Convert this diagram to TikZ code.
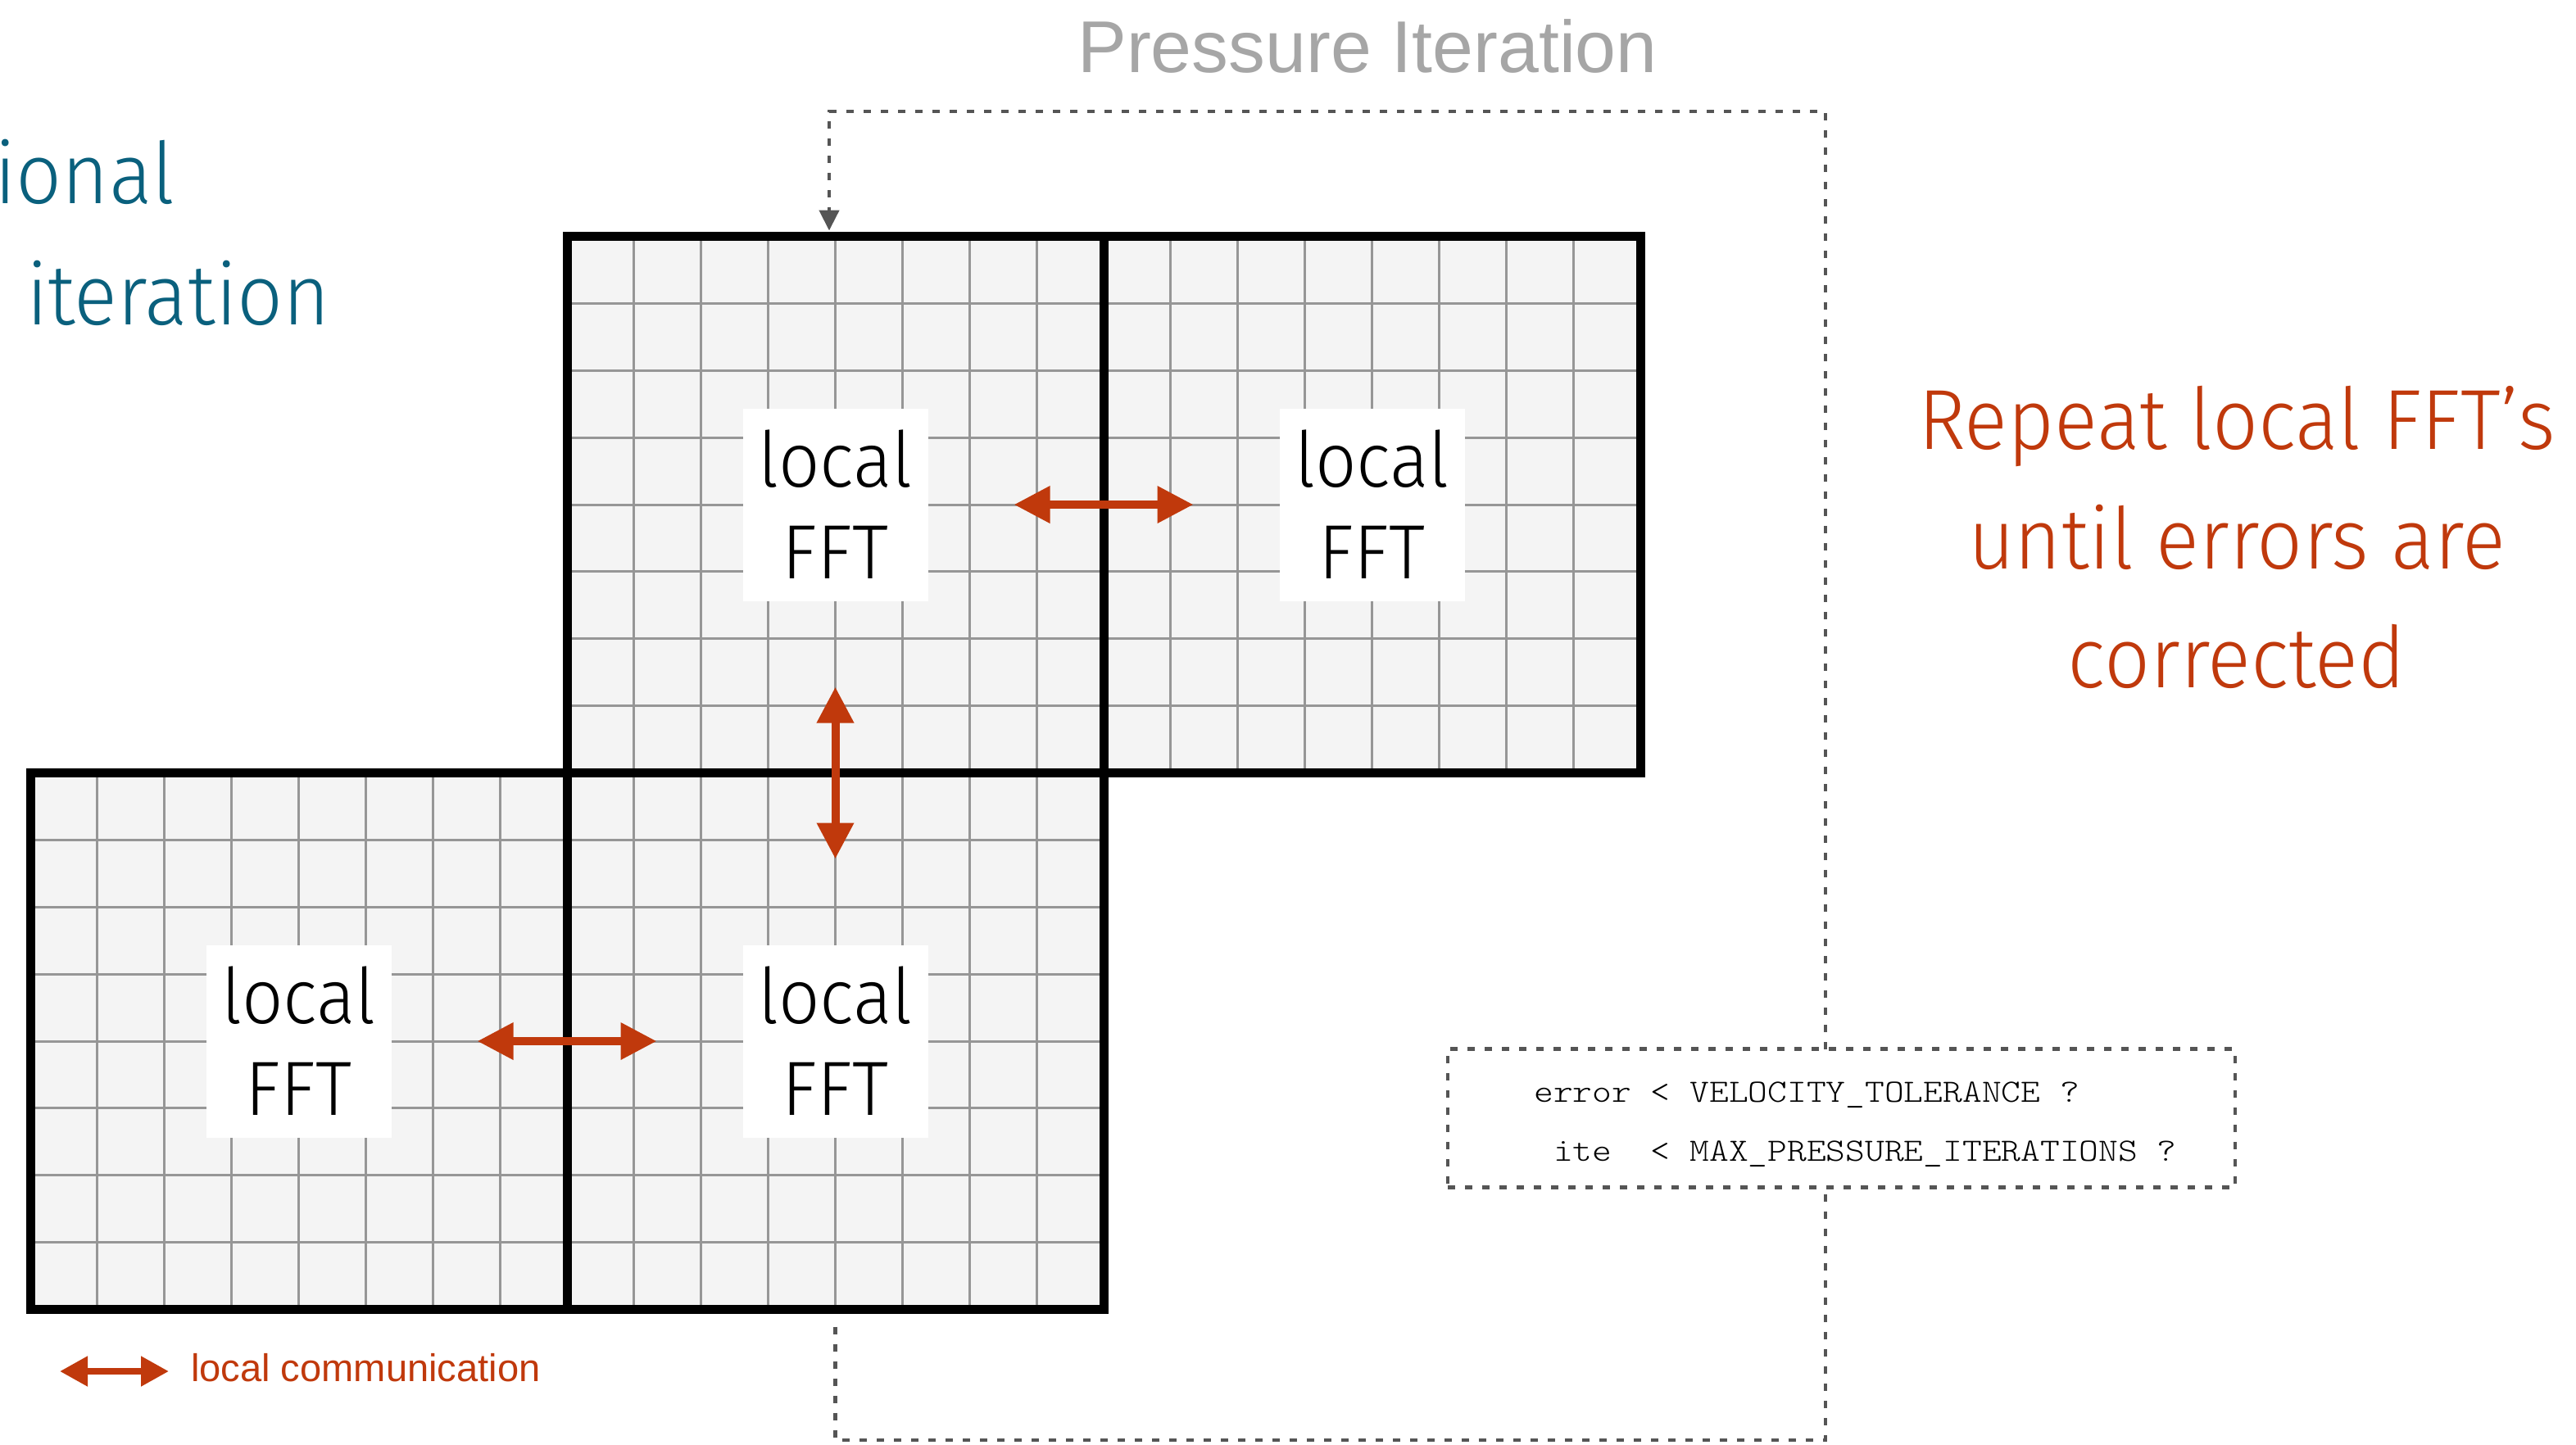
\documentclass[tikz,border=0pt]{standalone}
\usepackage{fontspec}
\usetikzlibrary{calc,arrows.meta}
\setmainfont{Fira Sans}[UprightFont={* Light}, FakeStretch=0.945]
\newfontfamily\helvfont{Liberation Sans}
\newfontfamily\codefont{lmmonolt10-regular.otf}[FakeStretch=1.14]
\definecolor{commred}{RGB}{192,57,12}
\definecolor{tealblue}{RGB}{10,96,125}
\definecolor{titlegray}{RGB}{166,166,166}
\definecolor{loopgray}{RGB}{85,85,85}
\definecolor{cellfill}{RGB}{244,244,244}
\definecolor{cellline}{RGB}{150,150,150}

\begin{document}
\begin{tikzpicture}[node distance=6.55cm, every node/.style={inner sep=0pt, outer sep=0pt},
    blk/.style={rectangle, fill=cellfill, minimum size=6.55cm},
    fftbox/.style={rectangle, fill=white, minimum width=2.26cm, minimum height=2.35cm, align=center, font=\fontsize{26.7}{31.9}\selectfont},
    comm/.style={commred, line width=0.1cm, {Triangle[length=0.44cm,width=0.43cm]}-{Triangle[length=0.44cm,width=0.43cm]}, shorten <=1.05cm, shorten >=1.05cm},
    loopline/.style={loopgray, line width=0.045cm, dash pattern=on 0.09cm off 0.12cm},
    condbox/.style={draw=loopgray, line width=0.045cm, dash pattern=on 0.09cm off 0.12cm, minimum width=9.61cm, minimum height=1.69cm},
    condtext/.style={align=left, font=\codefont\fontsize{11.3}{20.5}\selectfont},
    bigtext/.style={font=\fontsize{29.6}{41.5}\selectfont}]

    \useasboundingbox (0,0) rectangle (31.44,-17.63);

    % Blocks
    \node[blk] (blkA) at (10.195,-6.16) {};
    \node[blk, right of=blkA] (blkB) {};
    \node[blk, below of=blkA] (blkD) {};
    \node[blk, left of=blkD] (blkC) {};

    % Cells inside each block
    \foreach \b in {blkA,blkB,blkC,blkD} {
        \foreach \i in {1,...,7} {
            \draw[cellline, line width=0.03cm] ($(\b.north west)!\i/8!(\b.north east)$) -- ($(\b.south west)!\i/8!(\b.south east)$);
            \draw[cellline, line width=0.03cm] ($(\b.north west)!\i/8!(\b.south west)$) -- ($(\b.north east)!\i/8!(\b.south east)$);
        }
    }
    \foreach \b in {blkA,blkB,blkC,blkD}
        \draw[line width=0.11cm] (\b.north west) rectangle (\b.south east);

    % Local FFT labels
    \node[fftbox] (fftA) at (blkA) {local\\FFT};
    \node[fftbox] (fftB) at (blkB) {local\\FFT};
    \node[fftbox] (fftC) at (blkC) {local\\FFT};
    \node[fftbox] (fftD) at (blkD) {local\\FFT};

    % Local communication
    \draw[comm] (fftA) -- (fftB);
    \draw[comm] (fftA) -- (fftD);
    \draw[comm] (fftC) -- (fftD);

    % Pressure iteration loop
    \node[font=\helvfont\fontsize{25.5}{30}\selectfont, text=titlegray, anchor=base] (ptitle) at (16.69,-0.88) {Pressure Iteration};
    \node[condbox] (cond) at (22.475,-13.65) {};
    \node[condtext, xshift=0.17cm, yshift=-0.08cm] (condtxt) at (cond) {error < VELOCITY\_TOLERANCE ?\\\phantom{e}ite\ \ < MAX\_PRESSURE\_ITERATIONS ?};
    \coordinate (loopbot) at (22.28,-17.58);
    \coordinate (looptop) at (22.28,-1.36);
    \draw[loopline] ([yshift=-0.21cm]blkD.south) |- (loopbot) -- ([xshift=-0.195cm]cond.south);
    \draw[loopline, -{Triangle[length=0.25cm,width=0.24cm]}, shorten >=0.07cm] ([xshift=-0.195cm]cond.north) -- (looptop) -| ([xshift=-0.075cm]blkA.north);

    % Side texts
    \node[bigtext, text=tealblue, anchor=base east] (addl) at (2.13,-2.48) {ional};
    \node[bigtext, text=tealblue, anchor=base west] (iter) at (0.32,-3.96) {iteration};
    \node[bigtext, text=commred, align=center] (repeat) at (27.3,-6.56) {Repeat local FFT’s\\until errors are\\corrected};

    % Legend
    \coordinate (legL) at (0.73,-16.74);
    \node[font=\helvfont\fontsize{13.4}{16}\selectfont, text=commred, anchor=base west] (legtxt) at (2.33,-16.86) {local communication};
    \draw[commred, line width=0.08cm, {Triangle[length=0.34cm,width=0.35cm]}-{Triangle[length=0.34cm,width=0.35cm]}, shorten >=0.27cm] (legL) -- (legL -| legtxt.west);

\end{tikzpicture}
\end{document}
